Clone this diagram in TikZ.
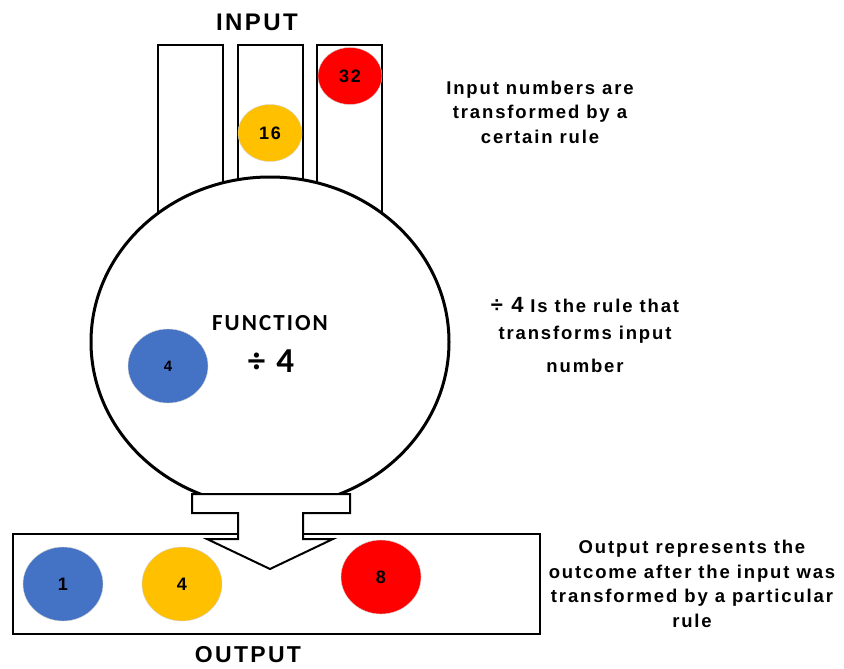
\documentclass[tikz,border=0pt]{standalone}
\usepackage{fontspec}
\setmainfont{Liberation Sans}[LetterSpace=10]
\newfontfamily\calfont{Carlito}[LetterSpace=9]
\usetikzlibrary{shapes.geometric}
\definecolor{ballblue}{HTML}{4472C4}
\definecolor{ballyellow}{HTML}{FFC000}
\definecolor{ballred}{HTML}{FF0000}

\begin{document}
\begin{tikzpicture}
[x=1pt, y=-1pt,
ball/.style={ellipse, draw=gray!35, thin, inner sep=0pt, font=\bfseries\fontsize{18}{18}\selectfont},
smallball/.style={ball, minimum width=64pt, minimum height=57pt},
bigball/.style={ball, minimum width=80pt, minimum height=74pt},
tube/.style={line width=2pt},
note/.style={align=center, font=\bfseries\fontsize{18.5}{24.5}\selectfont},
title/.style={font=\bfseries\fontsize{24}{24}\selectfont},
]
\useasboundingbox (0,0) rectangle (844,669);
%tubes
\draw[tube] (158,45) rectangle (223,260);
\draw[tube] (238,45) rectangle (303,260);
\draw[tube] (317,45) rectangle (382,260);
%function body
\draw[line width=3pt, fill=white] (270,342) ellipse (179 and 165);
%output tray
\draw[line width=2.5pt] (13,534) rectangle (540,634);
%neck and arrow
\draw[line width=2pt, fill=white] (192,494) -- (350,494) -- (350,513) -- (303,513) -- (303,539)
  -- (333,539) -- (270,569) -- (207,539) -- (238,539) -- (238,513) -- (192,513) -- cycle;
%balls going in
\node[smallball, fill=ballred](b32) at (350,76) {32};
\node[smallball, fill=ballyellow](b16) at (270,133) {16};
\node[bigball, fill=ballblue, font=\bfseries\fontsize{15}{15}\selectfont](b4) at (168,366) {4};
%balls coming out
\node[bigball, fill=ballblue](o1) at (63,584) {1};
\node[bigball, fill=ballyellow](o4) at (182,584) {4};
\node[bigball, fill=ballred](o8) at (381,577) {8};
% labels
\node[title](input) at (257,22) {INPUT};
\node[title, font=\bfseries\fontsize{23}{23}\selectfont](output) at (248,655) {OUTPUT};
\node[font=\calfont\bfseries\fontsize{23}{23}\selectfont](fn) at (270,323) {FUNCTION};
\node[font=\calfont\bfseries\fontsize{35}{35}\selectfont](rule) at (271,361) {÷ 4};
% notes
\node[note](n1) at (540,112) {Input numbers are\\transformed by a\\certain rule};
\node[note, font=\bfseries\fontsize{18.5}{27}\selectfont](n2) at (585,335)
  {{\fontsize{22}{22}\selectfont ÷ 4} Is the rule that\\transforms input\\[6pt]number};
\node[note](n3) at (692,584) {Output represents the\\outcome after the input was\\transformed by a particular\\rule};
\end{tikzpicture}
\end{document}
